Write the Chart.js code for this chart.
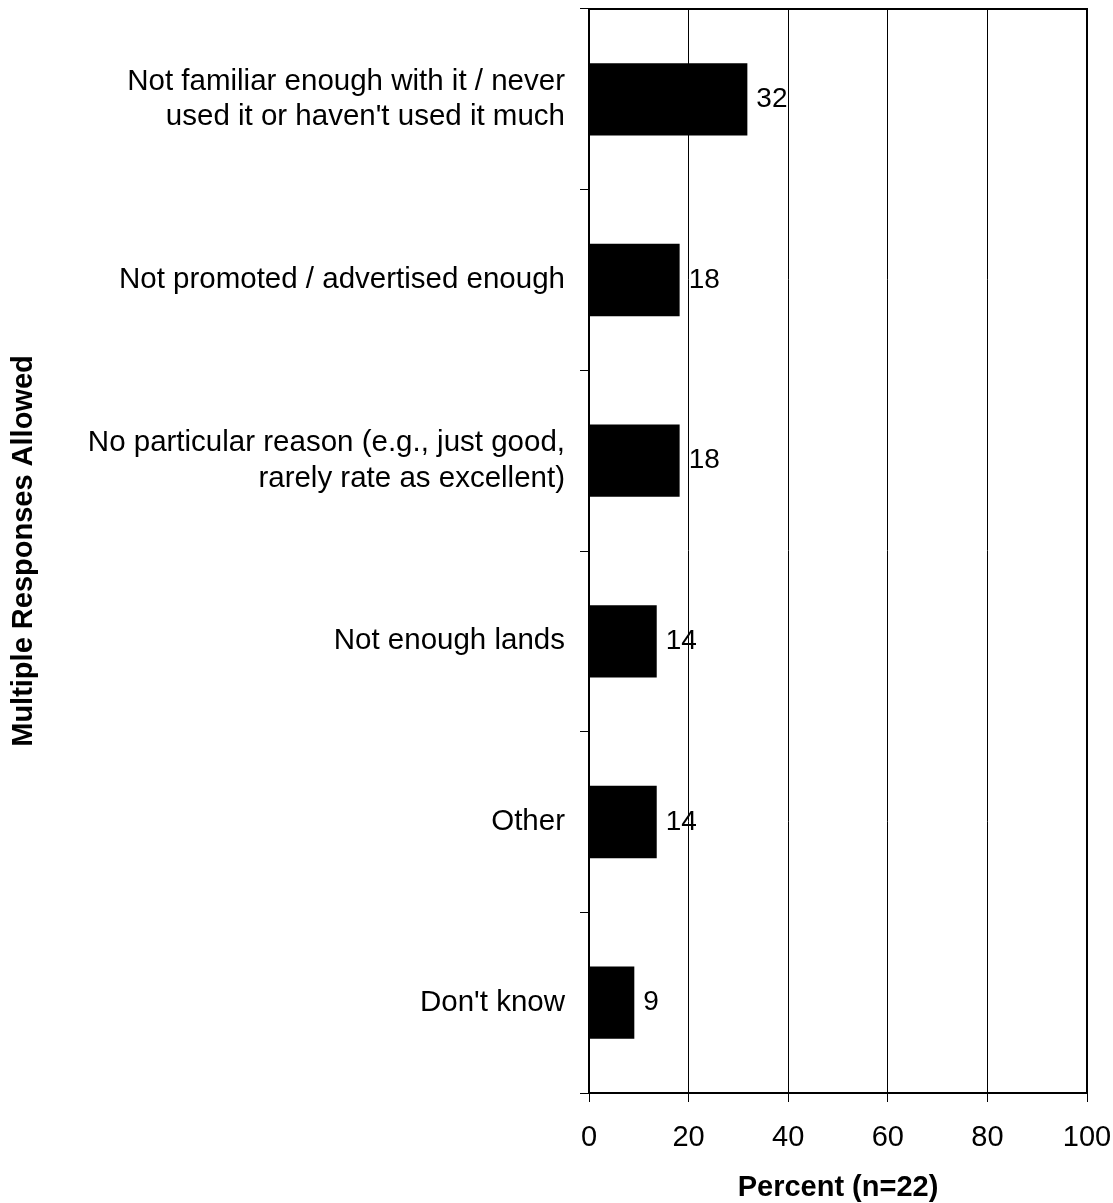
<!DOCTYPE html>
<html>
<head>
<meta charset="utf-8">
<script src="https://cdn.jsdelivr.net/npm/chart.js@4"></script>
<style>
  html, body { margin: 0; padding: 0; background: #fff; }
  #wrap { width: 1113px; height: 1203px; }
</style>
</head>
<body>
<div id="wrap"><canvas id="reasons"></canvas></div>
<script>
// Reasons (multiple responses allowed), n=22
const categories = [
  ["Not familiar enough with it / never", "used it or haven't used it much"],
  "Not promoted / advertised enough",
  ["No particular reason (e.g., just good,", "rarely rate as excellent)"],
  "Not enough lands",
  "Other",
  "Don't know",
];
const percents = [31.8, 18.2, 18.2, 13.6, 13.6, 9.1];
const xTicks = [0, 20, 40, 60, 80, 100];

const FONT = "'Liberation Sans', Arial, sans-serif";

// value labels right of each bar
const valueLabels = {
  id: "valueLabels",
  afterDatasetsDraw(chart) {
    const ctx = chart.ctx;
    const meta = chart.getDatasetMeta(0);
    ctx.save();
    ctx.font = "28px " + FONT;
    ctx.fillStyle = "#000";
    ctx.textAlign = "left";
    ctx.textBaseline = "middle";
    meta.data.forEach((bar, i) => {
      ctx.fillText(Math.round(percents[i]), bar.x + 9, bar.y);
    });
    ctx.restore();
  },
};

// box round the plot area
const frame = {
  id: "frame",
  afterDraw(chart) {
    const a = chart.chartArea;
    const ctx = chart.ctx;
    ctx.save();
    ctx.strokeStyle = "#000";
    ctx.lineWidth = 2;
    ctx.strokeRect(a.left, a.top, a.right - a.left, a.bottom - a.top);
    ctx.restore();
  },
};

new Chart(document.getElementById("reasons"), {
  type: "bar",
  data: {
    labels: categories,
    datasets: [
      {
        data: percents,
        backgroundColor: "#000",
        borderWidth: 0,
        categoryPercentage: 1,
        barPercentage: 0.4,
      },
    ],
  },
  options: {
    indexAxis: "y",
    responsive: true,
    maintainAspectRatio: false,
    animation: false,
    layout: { padding: { top: 9, right: 26, left: 0, bottom: 0 } },
    plugins: { legend: { display: false }, tooltip: { enabled: false } },
    scales: {
      x: {
        min: 0,
        max: 100,
        afterBuildTicks(scale) {
          scale.ticks = xTicks.map((v) => ({ value: v }));
        },
        afterFit(scale) {
          scale.height = 110;
          scale.paddingLeft = 0;
          scale.paddingRight = 0;
        },
        grid: { color: "#000", lineWidth: 1, tickLength: 9 },
        border: { color: "#000", width: 2 },
        ticks: { color: "#000", font: { family: FONT, size: 29 }, padding: 19 },
        title: {
          display: true,
          text: "Percent (n=22)",
          color: "#000",
          font: { family: FONT, size: 29, weight: "bold", lineHeight: 1.05 },
          padding: { top: 0, bottom: 0 },
        },
      },
      y: {
        afterFit(scale) {
          scale.width = 589;
          scale.paddingTop = 0;
          scale.paddingBottom = 0;
        },
        grid: { offset: true, drawOnChartArea: false, color: "#000", tickLength: 9 },
        border: { color: "#000", width: 2 },
        ticks: {
          color: "#000",
          font: { family: FONT, size: 29.5, lineHeight: 1.2 },
          padding: 15,
        },
        title: {
          display: true,
          text: "Multiple Responses Allowed",
          color: "#000",
          font: { family: FONT, size: 29, weight: "bold" },
          padding: { top: 7, bottom: 0 },
        },
      },
    },
  },
  plugins: [valueLabels, frame],
});
</script>
</body>
</html>
